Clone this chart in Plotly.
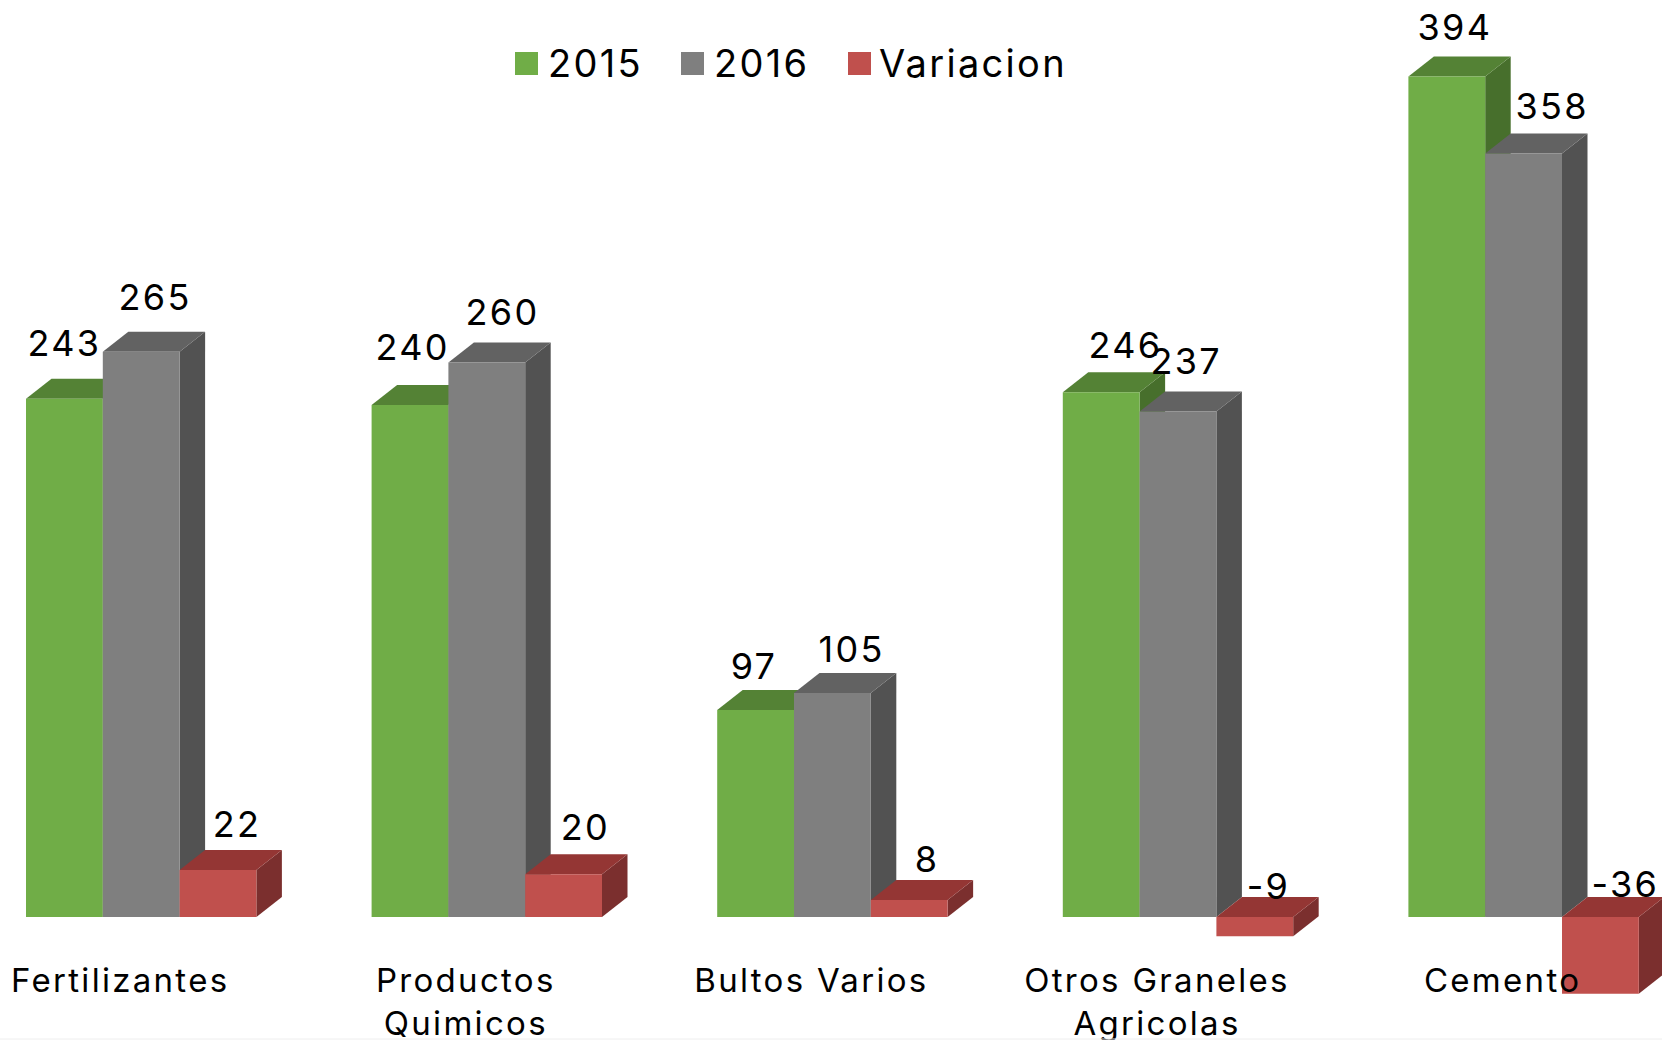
import plotly.graph_objects as go

# --- data ---
categories = ["Fertilizantes", "Productos<br>Quimicos", "Bultos Varios", "Otros Graneles<br>Agricolas", "Cemento"]
series_2015 = [243, 240, 97, 246, 394]
series_2016 = [265, 260, 105, 237, 358]
variacion = [22, 20, 8, -9, -36]

# --- label nudges (px, from bar front top / zero line) ---
nudge_x_2015 = [0, 2, -2, 24, 8]
nudge_x_2016 = [14, 16, 19, 8, 28]
nudge_x_var = [19, 22, 18, 14, 25]
nudge_y_2015 = [56, 58, 44, 47, 50]
nudge_y_2016 = [55, 50, 44, 50, 47]
nudge_y_var = [46, 47, 41, 31, 33]

# --- style ---
W, H = 1662, 1040
FONT = "Inter"
PITCH = 345.6
X0 = 141.2
BASE = 917
PPU = 2.133
DX = 25.5 / PITCH
DY = 20 / PPU
BAR = 1 / 4.5
LABEL_SHIFT = -21 / PITCH
face = {
    "2015": ("#70AD47", "#548235", "#476F2C"),
    "2016": ("#7F7F7F", "#626262", "#525252"),
    "Variacion": ("#C0504D", "#943634", "#7B2F2E"),
}
all_series = [("2015", series_2015, nudge_x_2015, nudge_y_2015),
              ("2016", series_2016, nudge_x_2016, nudge_y_2016),
              ("Variacion", variacion, nudge_x_var, nudge_y_var)]

xs = list(range(len(categories)))
fig = go.Figure()
shapes = []
annotations = []


def poly(pts, color):
    path = "M" + " L".join(f"{a},{b}" for a, b in pts) + " Z"
    return dict(type="path", path=path, xref="x", yref="y", layer="below",
                fillcolor=color, line=dict(width=0))


for i in xs:
    for s, (name, vals, nx, ny) in enumerate(all_series):
        v = vals[i]
        left = i - 1.5 * BAR + s * BAR
        right = left + BAR
        top = max(v, 0)
        low = min(v, 0)
        shapes.append(poly([(right, low), (right + DX, low + DY), (right + DX, top + DY), (right, top)], face[name][2]))
        shapes.append(poly([(left, top), (left + DX, top + DY), (right + DX, top + DY), (right, top)], face[name][1]))
        annotations.append(dict(x=left + BAR / 2, y=top, xref="x", yref="y", text=str(v), showarrow=False,
                                xanchor="center", yanchor="middle", xshift=nx[i], yshift=ny[i],
                                font=dict(family=FONT, size=36, color="#000000")))

for name, vals, _, _ in all_series:
    fig.add_trace(go.Bar(x=xs, y=vals, name=name, marker=dict(color=face[name][0], line=dict(width=0)),
                         width=BAR, showlegend=False, hoverinfo="x+y"))

# legend
legend_items = [("2015", 515, 546), ("2016", 681, 712), ("Variacion", 848, 877)]
for name, sx, tx in legend_items:
    shapes.append(dict(type="rect", xref="paper", yref="paper", x0=sx / W, x1=(sx + 23) / W,
                       y0=1 - 75 / H, y1=1 - 52 / H, fillcolor=face[name][0], line=dict(width=0), layer="above"))
    annotations.append(dict(x=tx / W, y=1 - 63 / H, xref="paper", yref="paper", text=name, showarrow=False,
                            xanchor="left", yanchor="middle", align="left",
                            font=dict(family=FONT, size=38, color="#000000")))

# faint page edge
shapes.append(dict(type="line", xref="paper", yref="paper", x0=0, x1=1, y0=1 - 1039 / H, y1=1 - 1039 / H,
                   line=dict(color="#EEEEEE", width=1), layer="above"))

fig.update_layout(
    width=W, height=H, margin=dict(l=0, r=0, t=0, b=0, autoexpand=False),
    paper_bgcolor="white", plot_bgcolor="white",
    barmode="group", bargap=1 / 3, bargroupgap=0,
    shapes=shapes, annotations=annotations, showlegend=False,
    xaxis=dict(range=[-X0 / PITCH, (W - X0) / PITCH], tickmode="array",
               tickvals=[i + LABEL_SHIFT for i in xs], ticktext=categories,
               showgrid=False, zeroline=False, showline=False, ticks="", automargin=False,
               anchor="free", position=1 - 958 / H, tickangle=0,
               tickfont=dict(family=FONT, size=33, color="#000000")),
    yaxis=dict(range=[-(H - BASE) / PPU, BASE / PPU], visible=False, showgrid=False, zeroline=False, automargin=False),
)
css = ("var st=document.createElement('style');"
       "st.textContent='svg text{letter-spacing:2.3px;}';"
       "document.head.appendChild(st);document.body.style.margin='0';")
fig.write_html("out.html", post_script=css, config={"displayModeBar": False})
